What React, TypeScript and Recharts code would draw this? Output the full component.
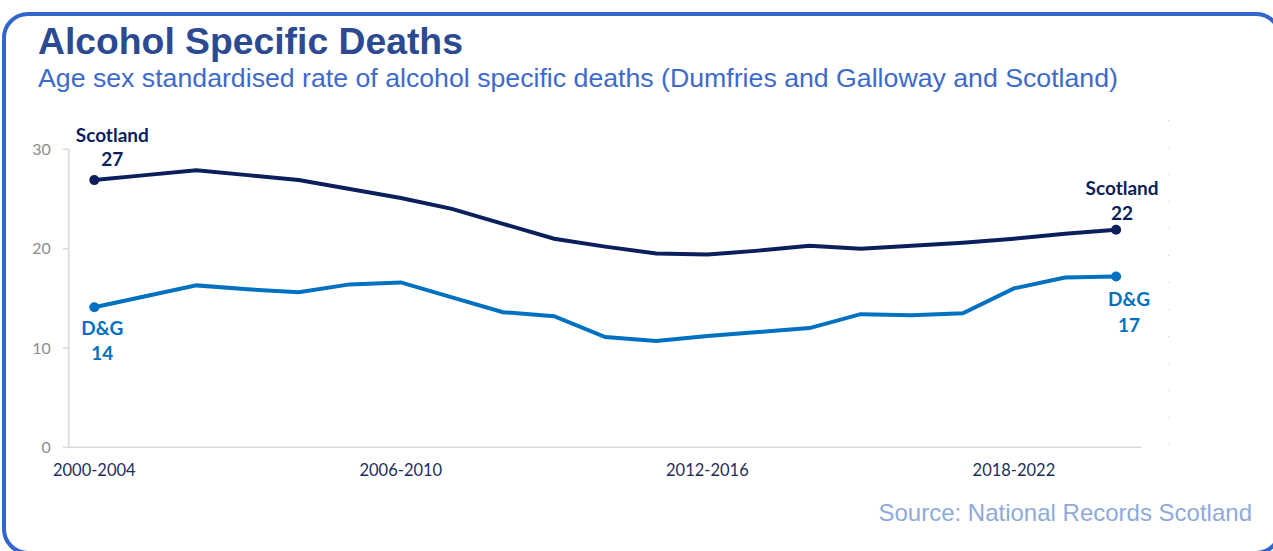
import React from 'react';
import { LineChart, Line, XAxis, YAxis, LabelList } from 'recharts';

// 5-year rolling periods
const periods = [
  '2000-2004', '2001-2005', '2002-2006', '2003-2007', '2004-2008', '2005-2009', '2006-2010',
  '2007-2011', '2008-2012', '2009-2013', '2010-2014', '2011-2015', '2012-2016', '2013-2017',
  '2014-2018', '2015-2019', '2016-2020', '2017-2021', '2018-2022', '2019-2023', '2020-2024',
];

// age sex standardised rate per 100,000
const scotland = [
  26.9, 27.4, 27.9, 27.4, 26.9, 26.0, 25.1, 24.0, 22.5, 21.0, 20.2,
  19.5, 19.4, 19.8, 20.3, 20.0, 20.3, 20.6, 21.0, 21.5, 21.9,
];
const dumfriesGalloway = [
  14.1, 15.2, 16.3, 15.9, 15.6, 16.4, 16.6, 15.1, 13.6, 13.2, 11.1,
  10.7, 11.2, 11.6, 12.0, 13.4, 13.3, 13.5, 16.0, 17.1, 17.2,
];

const yTicks = [0, 10, 20, 30];

const data = periods.map((period, i) => ({
  period,
  scotland: scotland[i],
  dg: dumfriesGalloway[i],
}));

const NAVY = '#0B1F5C';
const BLUE = '#0070C0';
const LAST = periods.length - 1;

type Offsets = { dx: number; nameDy: number; valueDy: number };

// name + rounded value at the first and last point only
const endLabels = (name: string, color: string, first: Offsets, last: Offsets) => (props: any) => {
  const { x, y, index, value } = props;
  if (index !== 0 && index !== LAST) return null;
  const o = index === 0 ? first : last;
  const textProps = {
    textAnchor: 'middle' as const,
    fill: color,
    fontFamily: 'Lato, sans-serif',
    fontWeight: 700,
    fontSize: 19,
  };
  return (
    <g key={`${name}-${index}`}>
      <text x={x + o.dx} y={y + o.nameDy} {...textProps}>{name}</text>
      <text x={x + o.dx} y={y + o.valueDy} {...textProps}>{Math.round(value)}</text>
    </g>
  );
};

const endDot = (color: string) => (props: any) => {
  const { cx, cy, index } = props;
  if (index !== 0 && index !== LAST) return <g key={`d-${index}`} />;
  return <circle key={`d-${index}`} cx={cx} cy={cy} r={5} fill={color} stroke="none" />;
};

export default function App() {
  return (
    <div style={{ position: 'absolute', left: 0, top: 0, width: 1273, height: 551, overflow: 'hidden', background: '#fff' }}>
      {/* card outline */}
      <div style={{
        position: 'absolute', left: 2, top: 12, width: 1280, height: 543,
        border: '4px solid #3366CC', borderRadius: 26, boxSizing: 'border-box',
      }} />
      <div style={{
        position: 'absolute', left: 38, top: 18, fontFamily: '"Liberation Sans", Arial, sans-serif',
        fontWeight: 700, fontSize: 37.3, color: '#2B4A92', lineHeight: '46px', whiteSpace: 'nowrap',
      }}>
        Alcohol Specific Deaths
      </div>
      <div style={{
        position: 'absolute', left: 38, top: 62, fontFamily: '"Liberation Sans", Arial, sans-serif',
        fontSize: 26.7, color: '#3D6ACB', lineHeight: '32px', whiteSpace: 'nowrap',
      }}>
        Age sex standardised rate of alcohol specific deaths (Dumfries and Galloway and Scotland)
      </div>
      {/* faint dotted edge on the right of the plot */}
      <div style={{
        position: 'absolute', left: 1168, top: 120, width: 1, height: 330,
        background: 'repeating-linear-gradient(to bottom, #cfcfcf 0 1px, transparent 1px 27px)',
      }} />
      <div style={{ position: 'absolute', left: 0, top: 0 }}>
        <LineChart
          width={1273}
          height={551}
          data={data}
          margin={{ top: 149.3, right: 131.4, bottom: 73.7, left: 8.8 }}
        >
          <XAxis
            dataKey="period"
            height={30}
            interval={5}
            padding={{ left: 25.5, right: 25.5 }}
            axisLine={{ stroke: '#d9d9d9', strokeWidth: 1.5 }}
            tickLine={false}
            tickSize={0}
            tickMargin={17}
            tick={{ fill: '#1F2D5C', fontSize: 16.5, fontFamily: 'Lato, sans-serif' }}
          />
          <YAxis
            width={60}
            domain={[0, 30]}
            ticks={yTicks}
            axisLine={{ stroke: '#d9d9d9', strokeWidth: 1.5 }}
            tickLine={{ stroke: '#d9d9d9', strokeWidth: 1.5 }}
            tickSize={6}
            tickMargin={12}
            tick={{ fill: '#8c8c8c', fontSize: 16, fontFamily: 'Lato, sans-serif' }}
          />
          <Line
            type="linear"
            dataKey="scotland"
            stroke={NAVY}
            strokeWidth={4}
            dot={endDot(NAVY)}
            activeDot={false}
            isAnimationActive={false}
          >
            <LabelList
              dataKey="scotland"
              content={endLabels('Scotland', NAVY,
                { dx: 18, nameDy: -38, valueDy: -14 },
                { dx: 6, nameDy: -35, valueDy: -10 })}
            />
          </Line>
          <Line
            type="linear"
            dataKey="dg"
            stroke={BLUE}
            strokeWidth={4}
            dot={endDot(BLUE)}
            activeDot={false}
            isAnimationActive={false}
          >
            <LabelList
              dataKey="dg"
              content={endLabels('D&G', BLUE,
                { dx: 8, nameDy: 28, valueDy: 53 },
                { dx: 13, nameDy: 30, valueDy: 56 })}
            />
          </Line>
        </LineChart>
      </div>
      <div style={{
        position: 'absolute', right: 21, top: 498, fontFamily: '"Liberation Sans", Arial, sans-serif',
        fontSize: 24, color: '#8EAADB', lineHeight: '30px', whiteSpace: 'nowrap',
      }}>
        Source: National Records Scotland
      </div>
    </div>
  );
}
